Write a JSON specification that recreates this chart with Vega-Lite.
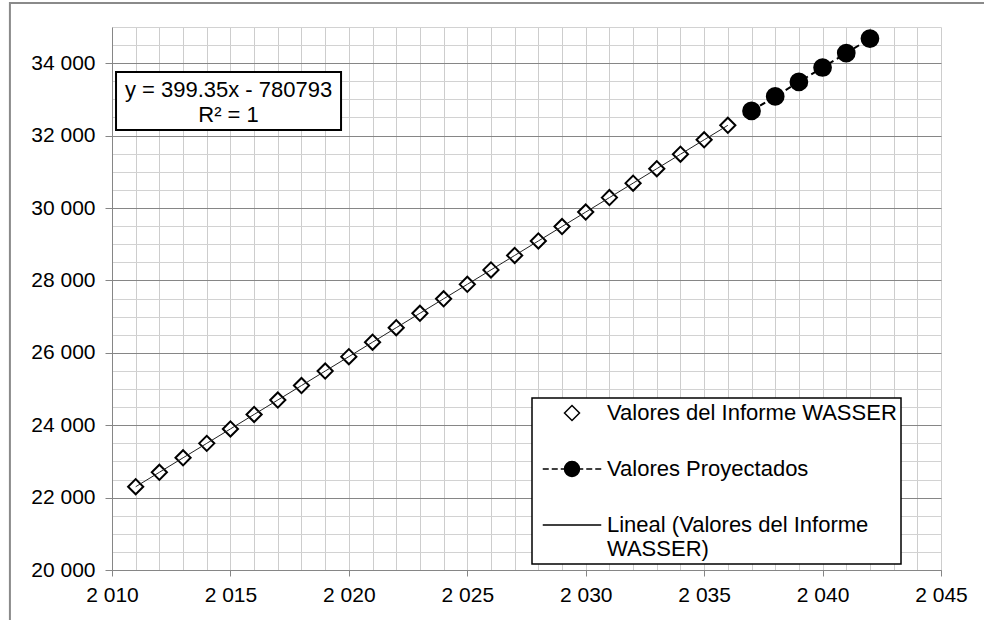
{
  "$schema": "https://vega.github.io/schema/vega-lite/v6.json",
  "width": 829,
  "height": 543,
  "autosize": "none",
  "padding": {"left": 112, "top": 27, "right": 43, "bottom": 50},
  "background": "white",
  "config": {
    "font": "Liberation Sans",
    "view": {"stroke": null},
    "legend": {"strokeWidth": 1.5}
  },
  "data": {
    "values": [
      {"anio": 2011, "valor": 22300, "serie": "Valores del Informe WASSER"},
      {"anio": 2012, "valor": 22699, "serie": "Valores del Informe WASSER"},
      {"anio": 2013, "valor": 23099, "serie": "Valores del Informe WASSER"},
      {"anio": 2014, "valor": 23498, "serie": "Valores del Informe WASSER"},
      {"anio": 2015, "valor": 23897, "serie": "Valores del Informe WASSER"},
      {"anio": 2016, "valor": 24297, "serie": "Valores del Informe WASSER"},
      {"anio": 2017, "valor": 24696, "serie": "Valores del Informe WASSER"},
      {"anio": 2018, "valor": 25095, "serie": "Valores del Informe WASSER"},
      {"anio": 2019, "valor": 25495, "serie": "Valores del Informe WASSER"},
      {"anio": 2020, "valor": 25894, "serie": "Valores del Informe WASSER"},
      {"anio": 2021, "valor": 26293, "serie": "Valores del Informe WASSER"},
      {"anio": 2022, "valor": 26693, "serie": "Valores del Informe WASSER"},
      {"anio": 2023, "valor": 27092, "serie": "Valores del Informe WASSER"},
      {"anio": 2024, "valor": 27491, "serie": "Valores del Informe WASSER"},
      {"anio": 2025, "valor": 27891, "serie": "Valores del Informe WASSER"},
      {"anio": 2026, "valor": 28290, "serie": "Valores del Informe WASSER"},
      {"anio": 2027, "valor": 28689, "serie": "Valores del Informe WASSER"},
      {"anio": 2028, "valor": 29089, "serie": "Valores del Informe WASSER"},
      {"anio": 2029, "valor": 29488, "serie": "Valores del Informe WASSER"},
      {"anio": 2030, "valor": 29888, "serie": "Valores del Informe WASSER"},
      {"anio": 2031, "valor": 30287, "serie": "Valores del Informe WASSER"},
      {"anio": 2032, "valor": 30686, "serie": "Valores del Informe WASSER"},
      {"anio": 2033, "valor": 31086, "serie": "Valores del Informe WASSER"},
      {"anio": 2034, "valor": 31485, "serie": "Valores del Informe WASSER"},
      {"anio": 2035, "valor": 31884, "serie": "Valores del Informe WASSER"},
      {"anio": 2036, "valor": 32284, "serie": "Valores del Informe WASSER"},
      {"anio": 2037, "valor": 32683, "serie": "Valores Proyectados"},
      {"anio": 2038, "valor": 33082, "serie": "Valores Proyectados"},
      {"anio": 2039, "valor": 33482, "serie": "Valores Proyectados"},
      {"anio": 2040, "valor": 33881, "serie": "Valores Proyectados"},
      {"anio": 2041, "valor": 34280, "serie": "Valores Proyectados"},
      {"anio": 2042, "valor": 34680, "serie": "Valores Proyectados"}
    ]
  },
  "encoding": {
    "x": {
      "field": "anio",
      "type": "quantitative",
      "scale": {"domain": [2010, 2045], "nice": false, "zero": false},
      "axis": {
        "title": null,
        "values": [2010,2011,2012,2013,2014,2015,2016,2017,2018,2019,2020,2021,2022,2023,2024,2025,2026,2027,2028,2029,2030,2031,2032,2033,2034,2035,2036,2037,2038,2039,2040,2041,2042,2043,2044,2045],
        "labelExpr": "datum.value % 5 === 0 ? replace(format(datum.value, ','), ',', ' ') : ''",
        "grid": true,
        "gridColor": "#cdcdcd",
        "gridWidth": 1,
        "domainColor": "#868686",
        "domainWidth": 1,
        "tickColor": {"condition": {"test": "datum.value % 5 === 0", "value": "#868686"}, "value": "transparent"},
        "tickSize": 6,
        "labelPadding": 8,
        "labelFontSize": 21,
        "labelColor": "#000000",
        "labelFont": "Liberation Sans",
        "labelOverlap": false,
        "labelFlush": false
      }
    },
    "y": {
      "field": "valor",
      "type": "quantitative",
      "scale": {"domain": [20000, 35000], "nice": false, "zero": false},
      "axis": {
        "title": null,
        "values": [20000,20500,21000,21500,22000,22500,23000,23500,24000,24500,25000,25500,26000,26500,27000,27500,28000,28500,29000,29500,30000,30500,31000,31500,32000,32500,33000,33500,34000,34500,35000],
        "labelExpr": "datum.value % 2000 === 0 ? replace(format(datum.value, ','), ',', ' ') : ''",
        "grid": true,
        "gridColor": {"condition": {"test": "datum.value % 2000 === 0", "value": "#868686"}, "value": "#d2d2d2"},
        "gridWidth": 1,
        "domainColor": "#868686",
        "domainWidth": 1,
        "tickColor": {"condition": {"test": "datum.value % 2000 === 0", "value": "#868686"}, "value": "transparent"},
        "tickSize": 7,
        "labelPadding": 10,
        "labelFontSize": 21,
        "labelColor": "#000000",
        "labelFont": "Liberation Sans",
        "labelOverlap": false,
        "labelFlush": false
      }
    }
  },
  "layer": [
    {
      "transform": [{"filter": "datum.serie === 'Valores Proyectados'"}],
      "mark": {"type": "line", "color": "#000000", "strokeWidth": 2, "strokeDash": [6, 4]}
    },
    {
      "mark": {"type": "point", "filled": true, "stroke": "#000000", "strokeWidth": 2, "opacity": 1},
      "encoding": {
        "shape": {"condition": {"test": "datum.serie === 'Valores Proyectados'", "value": "circle"}, "value": "diamond"},
        "fill": {"condition": {"test": "datum.serie === 'Valores Proyectados'", "value": "#000000"}, "value": "#ffffff"},
        "size": {"condition": {"test": "datum.serie === 'Valores Proyectados'", "value": 280}, "value": 230}
      }
    },
    {
      "transform": [{"filter": "datum.serie === 'Valores del Informe WASSER'"}],
      "mark": {"type": "line", "color": "#222222", "strokeWidth": 1}
    },
    {
      "transform": [{"filter": "false"}],
      "mark": {"type": "point", "filled": true, "strokeWidth": 1.5, "size": 225, "opacity": 1},
      "encoding": {
        "shape": {
          "field": "serie",
          "type": "nominal",
          "scale": {
            "domain": ["Valores del Informe WASSER", "Valores Proyectados", "Lineal (Valores del Informe WASSER)"],
            "range": ["diamond", "M-3.9,0H-3.1M-2.7,0H-1.9M-1.5,0H-1M1,0H1.5M1.9,0H2.7M3.1,0H3.9M-1,0A1,1 0 1 1 1,0A1,1 0 1 1 -1,0Z", "M-3.9,0H3.9"]
          },
          "legend": {
            "title": null,
            "orient": "none",
            "legendX": 420,
            "legendY": 371,
            "padding": 4,
            "fillColor": "white",
            "strokeColor": "#000000",
            "symbolSize": 225,
            "symbolStrokeWidth": 1.5,
            "symbolOpacity": 1,
            "symbolOffset": 25,
            "labelOffset": 24,
            "rowPadding": 34,
            "labelFontSize": 22,
            "labelFont": "Liberation Sans",
            "labelColor": "#000000",
            "labelLimit": 500,
            "labelExpr": "datum.label === 'Lineal (Valores del Informe WASSER)' ? ['Lineal (Valores del Informe', 'WASSER)'] : datum.label"
          }
        },
        "fill": {
          "field": "serie",
          "type": "nominal",
          "scale": {
            "domain": ["Valores del Informe WASSER", "Valores Proyectados", "Lineal (Valores del Informe WASSER)"],
            "range": ["#ffffff", "#000000", "#ffffff"]
          }
        },
        "stroke": {
          "field": "serie",
          "type": "nominal",
          "scale": {
            "domain": ["Valores del Informe WASSER", "Valores Proyectados", "Lineal (Valores del Informe WASSER)"],
            "range": ["#000000", "#000000", "#000000"]
          }
        }
      }
    },
    {
      "transform": [{"filter": "datum.anio === 2011"}],
      "mark": {"type": "rect", "fill": "white", "stroke": "#000000", "strokeWidth": 2},
      "encoding": {
        "x": {"datum": 2010.17, "type": "quantitative"},
        "x2": {"datum": 2019.67},
        "y": {"datum": 33757, "type": "quantitative"},
        "y2": {"datum": 32155}
      }
    },
    {
      "transform": [{"filter": "datum.anio === 2011"}],
      "mark": {"type": "text", "text": ["y = 399.35x - 780793", "R² = 1"], "fontSize": 22, "font": "Liberation Sans", "align": "center", "baseline": "middle", "lineHeight": 25, "color": "#000000"},
      "encoding": {
        "x": {"datum": 2014.92, "type": "quantitative"},
        "y": {"datum": 33260, "type": "quantitative"}
      }
    },
    {
      "transform": [{"filter": "datum.anio === 2011"}],
      "mark": {"type": "rect", "fill": "transparent", "stroke": "#8a8a8a", "strokeWidth": 2},
      "encoding": {
        "x": {"datum": 2005.69, "type": "quantitative"},
        "x2": {"datum": 2070},
        "y": {"datum": 35663, "type": "quantitative"},
        "y2": {"datum": 10000}
      }
    }
  ]
}
